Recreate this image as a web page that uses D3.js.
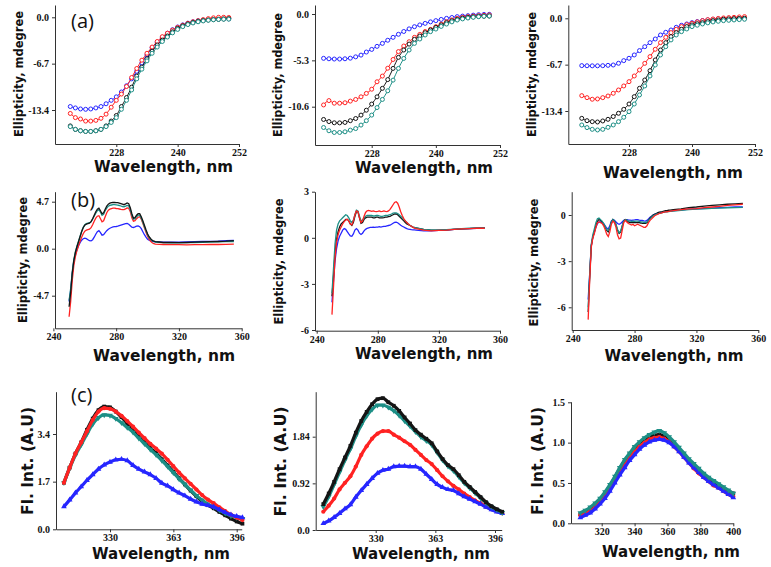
<!DOCTYPE html>
<html><head><meta charset="utf-8">
<script src="https://cdn.jsdelivr.net/npm/d3@7"></script>
<style>
html,body{margin:0;padding:0;background:#fff;}
svg{display:block;}
.tick text{font-family:"Liberation Serif","Times New Roman",serif;font-weight:bold;font-size:10px;fill:#111;}
</style></head><body>
<svg id="chart" width="771" height="567"></svg>
<script>
// ---------- DATA ----------
// Row (a): far-UV CD, 219..250 nm every 1 nm
const A_WL = d3.range(219, 251);
const A1_BLUE  = [-12.9,-13.1,-13.25,-13.3,-13.25,-13.1,-12.9,-12.5,-12.0,-11.5,-10.8,-9.9,-8.9,-7.8,-6.6,-5.4,-4.4,-3.6,-2.9,-2.3,-1.8,-1.4,-1.1,-0.85,-0.65,-0.5,-0.4,-0.3,-0.25,-0.2,-0.2,-0.22];
const A1_RED   = [-13.9,-14.5,-14.7,-15.0,-15.0,-14.9,-14.6,-14.0,-13.0,-12.0,-11.1,-10.0,-8.7,-7.4,-6.2,-5.2,-4.3,-3.5,-2.8,-2.3,-1.85,-1.45,-1.15,-0.87,-0.65,-0.49,-0.33,-0.19,-0.08,0.0,0.0,-0.02];
const A1_BLACK = [-15.7,-16.2,-16.4,-16.5,-16.5,-16.4,-16.2,-15.7,-15.0,-14.2,-12.9,-11.6,-10.1,-8.5,-7.2,-6.0,-4.9,-4.0,-3.3,-2.7,-2.1,-1.6,-1.25,-0.97,-0.75,-0.58,-0.47,-0.39,-0.33,-0.29,-0.24,-0.2];
const A1_TEAL  = [-15.8,-16.2,-16.4,-16.5,-16.5,-16.4,-16.2,-15.8,-15.2,-14.5,-13.3,-12.0,-10.5,-8.9,-7.5,-6.3,-5.2,-4.3,-3.5,-2.85,-2.25,-1.75,-1.35,-1.05,-0.82,-0.65,-0.52,-0.43,-0.36,-0.31,-0.28,-0.27];

const A2_BLUE  = [-5.07,-5.12,-5.15,-5.15,-5.12,-5.05,-4.9,-4.7,-4.35,-4.05,-3.7,-3.36,-3.0,-2.67,-2.32,-2.0,-1.7,-1.45,-1.25,-1.07,-0.9,-0.76,-0.62,-0.5,-0.4,-0.3,-0.24,-0.19,-0.13,-0.08,-0.05,-0.04];
const A2_RED   = [-10.4,-9.9,-10.2,-10.2,-10.15,-9.96,-9.77,-9.47,-9.08,-8.6,-7.75,-7.1,-6.2,-5.2,-4.3,-3.66,-3.17,-2.67,-2.33,-2.0,-1.76,-1.45,-1.15,-0.88,-0.68,-0.5,-0.38,-0.3,-0.24,-0.19,-0.15,-0.11];
const A2_BLACK = [-12.06,-12.3,-12.44,-12.45,-12.4,-12.2,-11.95,-11.56,-11.0,-10.3,-9.47,-8.5,-7.5,-6.22,-4.96,-4.12,-3.44,-2.9,-2.52,-2.14,-1.83,-1.53,-1.25,-0.99,-0.78,-0.61,-0.48,-0.38,-0.32,-0.27,-0.25,-0.23];
const A2_TEAL  = [-12.98,-13.35,-13.55,-13.55,-13.47,-13.28,-13.1,-12.7,-12.2,-11.56,-10.7,-9.77,-8.78,-7.56,-6.22,-5.08,-4.12,-3.36,-2.86,-2.4,-2.02,-1.72,-1.42,-1.15,-0.9,-0.69,-0.56,-0.46,-0.38,-0.31,-0.26,-0.23];

const A3_BLUE  = [-6.84,-6.86,-6.87,-6.87,-6.85,-6.8,-6.75,-6.5,-6.12,-5.78,-5.3,-4.67,-4.1,-3.52,-2.99,-2.41,-2.02,-1.69,-1.3,-1.01,-0.82,-0.63,-0.48,-0.34,-0.23,-0.14,-0.08,-0.03,0.0,0.0,0.0,0.02];
const A3_RED   = [-11.18,-11.47,-11.7,-11.66,-11.47,-11.23,-10.84,-10.36,-9.78,-9.16,-8.34,-7.47,-6.51,-5.54,-4.48,-3.52,-2.75,-2.07,-1.59,-1.2,-0.92,-0.72,-0.52,-0.34,-0.2,-0.1,-0.02,0.05,0.1,0.14,0.2,0.24];
const A3_BLACK = [-14.46,-14.8,-14.94,-14.99,-14.84,-14.6,-14.2,-13.73,-13.16,-12.39,-11.33,-10.12,-8.92,-7.57,-6.02,-4.58,-3.52,-2.65,-2.07,-1.59,-1.2,-0.96,-0.78,-0.63,-0.47,-0.34,-0.24,-0.14,-0.09,-0.05,-0.02,0.0];
const A3_TEAL  = [-15.42,-15.8,-16.05,-16.14,-16.05,-15.76,-15.42,-14.94,-14.31,-13.49,-12.39,-11.08,-9.78,-8.34,-6.75,-5.3,-4.1,-3.13,-2.41,-1.93,-1.54,-1.2,-1.0,-0.82,-0.66,-0.53,-0.43,-0.34,-0.29,-0.24,-0.19,-0.14];

// Row (b): near-UV CD, 250..305 every 1 nm, then every 5 nm
const B1_WL = [...d3.range(250, 306), ...d3.range(310, 356, 5)];
const B_WL  = [...d3.range(250, 306), ...d3.range(310, 351, 5)];
const B1_BLACK = [-5.8,-4.4,-2.5,-1.2,-0.4,0.2,0.7,1.2,1.7,2.1,
  2.35,2.45,2.5,2.55,2.7,3.0,3.35,3.7,3.95,4.05,
  3.8,3.5,3.6,3.95,4.25,4.45,4.55,4.6,4.62,4.62,
  4.6,4.6,4.55,4.5,4.45,4.4,4.48,4.57,4.5,4.1,
  3.5,3.05,3.1,3.35,3.5,3.5,3.2,2.8,2.35,1.9,
  1.5,1.2,1.0,0.85,0.75,0.7,
  0.62,0.62,0.6,0.62,0.65,0.68,0.7,0.72,0.75,0.8];
const B1_TEAL = [-5.2,-4.0,-2.3,-1.1,-0.3,0.25,0.75,1.25,1.75,2.15,
  2.4,2.5,2.55,2.6,2.7,2.95,3.25,3.55,3.8,3.9,
  3.65,3.35,3.45,3.8,4.05,4.25,4.33,4.37,4.4,4.4,
  4.38,4.36,4.32,4.27,4.22,4.18,4.25,4.33,4.28,3.9,
  3.35,2.95,3.0,3.2,3.35,3.35,3.05,2.65,2.2,1.8,
  1.4,1.12,0.95,0.8,0.72,0.67,
  0.6,0.58,0.58,0.6,0.62,0.64,0.66,0.68,0.7,0.72];
const B1_RED = [-6.8,-5.3,-3.2,-1.7,-0.8,-0.2,0.3,0.75,1.15,1.5,
  1.75,1.85,1.9,1.95,2.1,2.4,2.75,3.05,3.25,3.3,
  3.0,2.7,2.8,3.2,3.6,3.85,3.95,4.0,4.05,4.05,
  4.02,4.0,3.97,3.93,3.9,3.9,3.98,4.08,4.05,3.7,
  3.1,2.75,2.8,3.0,3.15,3.2,2.95,2.55,2.1,1.65,
  1.25,0.95,0.75,0.6,0.5,0.45,
  0.42,0.4,0.4,0.38,0.4,0.4,0.42,0.42,0.44,0.45];
const B1_BLUE = [-5.3,-4.2,-2.5,-1.3,-0.6,-0.1,0.3,0.6,0.85,1.0,
  1.05,1.0,0.9,0.8,0.78,0.9,1.15,1.45,1.7,1.8,
  1.6,1.35,1.4,1.6,1.8,1.95,2.05,2.12,2.18,2.2,
  2.22,2.25,2.3,2.35,2.4,2.45,2.5,2.52,2.45,2.3,
  2.15,2.12,2.18,2.25,2.28,2.2,2.0,1.7,1.4,1.15,
  0.95,0.85,0.78,0.74,0.72,0.7,
  0.66,0.65,0.66,0.68,0.7,0.72,0.74,0.76,0.8,0.82];

const B2_BLACK = [-3.8,-2.5,-1.0,-0.1,0.4,0.7,0.9,1.0,1.1,1.2,
  1.2,1.1,0.9,0.8,1.0,1.4,1.7,1.7,1.3,0.95,
  1.0,1.2,1.3,1.35,1.35,1.35,1.35,1.3,1.3,1.35,
  1.35,1.3,1.3,1.3,1.32,1.35,1.35,1.38,1.4,1.45,
  1.5,1.55,1.55,1.5,1.4,1.3,1.2,1.1,1.0,0.9,
  0.85,0.8,0.75,0.7,0.67,0.65,
  0.55,0.5,0.5,0.52,0.55,0.58,0.6,0.63,0.65];
const B2_TEAL = [-3.6,-2.0,-0.4,0.5,0.9,1.1,1.2,1.3,1.4,1.5,
  1.45,1.3,1.1,1.0,1.15,1.5,1.8,1.75,1.4,1.1,
  1.15,1.3,1.4,1.45,1.45,1.45,1.45,1.42,1.42,1.45,
  1.45,1.42,1.4,1.4,1.42,1.45,1.45,1.48,1.5,1.55,
  1.6,1.62,1.62,1.58,1.5,1.4,1.3,1.2,1.1,1.0,
  0.9,0.82,0.76,0.7,0.67,0.65,
  0.55,0.5,0.5,0.53,0.56,0.6,0.62,0.65,0.65];
const B2_RED = [-5.0,-3.2,-1.3,-0.3,0.2,0.5,0.7,0.9,1.05,1.15,
  1.2,1.1,0.9,0.85,1.1,1.5,1.75,1.7,1.3,1.0,
  1.1,1.4,1.65,1.75,1.78,1.75,1.72,1.75,1.72,1.7,
  1.72,1.75,1.7,1.72,1.75,1.72,1.7,1.75,1.85,2.0,
  2.15,2.3,2.35,2.25,2.0,1.7,1.45,1.25,1.1,1.0,
  0.9,0.82,0.75,0.68,0.63,0.6,
  0.5,0.45,0.48,0.5,0.55,0.58,0.6,0.62,0.62];
const B2_BLUE = [-4.2,-2.8,-1.5,-0.7,-0.2,0.1,0.3,0.5,0.6,0.55,
  0.4,0.25,0.12,0.1,0.25,0.5,0.6,0.5,0.3,0.22,
  0.3,0.45,0.55,0.62,0.65,0.68,0.68,0.7,0.68,0.7,
  0.7,0.72,0.7,0.72,0.75,0.75,0.78,0.8,0.82,0.88,
  0.95,1.0,1.02,0.98,0.9,0.82,0.75,0.7,0.65,0.6,
  0.57,0.55,0.53,0.52,0.51,0.5,
  0.45,0.45,0.48,0.5,0.55,0.58,0.6,0.62,0.65];

const B3_RED = [-6.8,-4.2,-2.1,-1.5,-1.2,-0.8,-0.5,-0.45,-0.5,-0.55,
  -0.7,-0.95,-1.25,-1.4,-1.1,-0.6,-0.4,-0.5,-0.8,-1.3,
  -1.55,-1.5,-1.0,-0.5,-0.35,-0.45,-0.55,-0.6,-0.65,-0.6,
  -0.7,-0.65,-0.6,-0.65,-0.7,-0.75,-0.8,-0.8,-0.7,-0.5,
  -0.35,-0.25,-0.15,-0.05,0.0,0.05,0.1,0.12,0.15,0.18,
  0.2,0.21,0.23,0.25,0.27,0.28,
  0.35,0.4,0.42,0.48,0.52,0.56,0.62,0.66,0.7];
const B3_BLACK = [-6.3,-4.0,-2.0,-1.45,-1.1,-0.7,-0.4,-0.3,-0.35,-0.45,
  -0.6,-0.8,-1.0,-1.1,-0.85,-0.45,-0.3,-0.4,-0.65,-1.0,
  -1.2,-1.1,-0.75,-0.4,-0.3,-0.35,-0.45,-0.5,-0.5,-0.5,
  -0.5,-0.5,-0.48,-0.5,-0.52,-0.55,-0.55,-0.55,-0.5,-0.35,
  -0.2,-0.1,0.0,0.05,0.1,0.15,0.18,0.2,0.22,0.25,
  0.28,0.29,0.31,0.32,0.34,0.35,
  0.4,0.48,0.52,0.58,0.62,0.66,0.7,0.72,0.75];
const B3_TEAL = [-6.0,-3.8,-1.9,-1.3,-0.9,-0.5,-0.25,-0.2,-0.3,-0.4,
  -0.55,-0.75,-0.95,-1.0,-0.8,-0.45,-0.3,-0.4,-0.6,-0.95,
  -1.15,-1.05,-0.7,-0.4,-0.3,-0.33,-0.38,-0.4,-0.42,-0.4,
  -0.42,-0.4,-0.4,-0.42,-0.45,-0.45,-0.48,-0.48,-0.45,-0.35,
  -0.25,-0.15,-0.05,0.0,0.05,0.08,0.1,0.12,0.15,0.18,
  0.2,0.21,0.22,0.23,0.24,0.25,
  0.3,0.35,0.38,0.4,0.43,0.45,0.47,0.48,0.5];
const B3_BLUE = [-5.5,-3.8,-2.0,-1.4,-1.1,-0.8,-0.55,-0.45,-0.45,-0.5,
  -0.55,-0.7,-0.85,-0.9,-0.7,-0.4,-0.3,-0.35,-0.45,-0.55,
  -0.6,-0.55,-0.45,-0.35,-0.3,-0.3,-0.32,-0.33,-0.35,-0.33,
  -0.32,-0.3,-0.3,-0.33,-0.35,-0.35,-0.38,-0.4,-0.35,-0.25,
  -0.15,-0.08,0.0,0.05,0.08,0.1,0.12,0.15,0.18,0.2,
  0.22,0.23,0.24,0.25,0.27,0.28,
  0.32,0.38,0.4,0.43,0.45,0.48,0.5,0.52,0.52];

// Row (c): intrinsic fluorescence, every 3 nm
const C1_WL = d3.range(306, 400, 3);
const C1_BLACK = [1.66,2.2,2.7,3.1,3.55,3.95,4.25,4.38,4.35,4.2,4.0,3.78,3.54,3.3,3.1,2.9,2.72,2.5,2.28,2.05,1.82,1.6,1.38,1.18,1.0,0.86,0.75,0.62,0.5,0.38,0.28,0.2];
const C1_RED   = [1.66,2.2,2.7,3.1,3.5,3.9,4.2,4.32,4.3,4.2,4.05,3.86,3.66,3.45,3.25,3.05,2.88,2.7,2.48,2.25,2.02,1.82,1.62,1.42,1.22,1.06,0.93,0.78,0.65,0.52,0.42,0.33];
const C1_TEAL  = [1.66,2.18,2.65,3.02,3.4,3.75,3.98,4.08,4.06,3.95,3.8,3.63,3.46,3.25,3.05,2.85,2.66,2.46,2.24,2.02,1.8,1.6,1.4,1.2,1.04,0.9,0.8,0.68,0.57,0.48,0.42,0.38];
const C1_BLUE  = [0.81,1.05,1.3,1.52,1.75,1.95,2.15,2.3,2.4,2.48,2.5,2.45,2.28,2.15,2.05,1.95,1.82,1.65,1.55,1.42,1.3,1.2,1.08,0.98,0.9,0.85,0.8,0.7,0.6,0.52,0.46,0.42];

const C2_WL = d3.range(301, 401, 3);
const C2_BLACK = [0.51,0.72,0.95,1.2,1.43,1.66,1.92,2.15,2.33,2.48,2.58,2.6,2.52,2.45,2.35,2.22,2.1,1.97,1.88,1.8,1.71,1.55,1.4,1.28,1.2,1.08,0.95,0.85,0.75,0.65,0.55,0.47,0.41,0.36];
const C2_TEAL  = [0.46,0.66,0.9,1.14,1.38,1.6,1.85,2.07,2.25,2.38,2.46,2.46,2.42,2.35,2.26,2.15,2.05,1.94,1.84,1.76,1.68,1.53,1.38,1.26,1.17,1.05,0.93,0.83,0.73,0.63,0.54,0.46,0.4,0.34];
const C2_RED   = [0.36,0.48,0.62,0.8,0.93,1.06,1.25,1.48,1.65,1.8,1.9,1.95,1.95,1.88,1.82,1.75,1.68,1.58,1.48,1.38,1.3,1.18,1.06,0.96,0.87,0.8,0.72,0.65,0.58,0.53,0.46,0.41,0.37,0.33];
const C2_BLUE  = [0.13,0.18,0.25,0.33,0.42,0.5,0.65,0.78,0.9,1.02,1.12,1.18,1.2,1.25,1.26,1.26,1.25,1.25,1.2,1.1,1.0,0.9,0.84,0.8,0.78,0.72,0.66,0.61,0.56,0.51,0.45,0.4,0.36,0.33];

const C3_WL = d3.range(307, 401, 3);
const C3_TEAL  = [0.13,0.16,0.2,0.25,0.31,0.39,0.48,0.58,0.69,0.79,0.87,0.95,1.01,1.06,1.1,1.13,1.15,1.12,1.07,1.01,0.94,0.87,0.8,0.74,0.68,0.62,0.57,0.53,0.49,0.45,0.41,0.37];
const C3_BLACK = [0.11,0.14,0.18,0.23,0.29,0.37,0.47,0.57,0.68,0.78,0.86,0.93,0.98,1.03,1.07,1.09,1.1,1.08,1.03,0.97,0.91,0.84,0.77,0.7,0.64,0.59,0.55,0.5,0.47,0.43,0.4,0.37];
const C3_RED   = [0.1,0.12,0.15,0.2,0.26,0.33,0.42,0.52,0.62,0.72,0.81,0.89,0.95,1.0,1.04,1.06,1.07,1.05,1.01,0.95,0.89,0.82,0.75,0.68,0.62,0.57,0.52,0.47,0.44,0.4,0.36,0.33];
const C3_BLUE  = [0.07,0.1,0.13,0.18,0.24,0.31,0.4,0.5,0.6,0.69,0.78,0.85,0.92,0.97,1.01,1.03,1.04,1.03,1.0,0.95,0.89,0.82,0.75,0.69,0.63,0.57,0.52,0.48,0.44,0.4,0.36,0.32];

// Tick values and labels
const A_XTICKS = [228, 240, 252];
const A_XLABELS = ["228", "240", "252"];
const A13_YTICKS = [0, -6.7, -13.4];
const A13_YLABELS = ["0.0", "-6.7", "-13.4"];
const A2_YTICKS = [0, -5.3, -10.6];
const A2_YLABELS = ["0.0", "-5.3", "-10.6"];
const B_XTICKS = [240, 280, 320, 360];
const B_XLABELS = ["240", "280", "320", "360"];
const B1_YTICKS = [4.7, 0, -4.7];
const B1_YLABELS = ["4.7", "0.0", "-4.7"];
const B2_YTICKS = [3, 0, -3, -6];
const B2_YLABELS = ["3", "0", "-3", "-6"];
const B3_YTICKS = [0, -3, -6];
const B3_YLABELS = ["0", "-3", "-6"];
const C12_XTICKS = [330, 363, 396];
const C12_XLABELS = ["330", "363", "396"];
const C1_YTICKS = [0, 1.7, 3.4];
const C1_YLABELS = ["0.0", "1.7", "3.4"];
const C2_YTICKS = [0, 0.92, 1.84];
const C2_YLABELS = ["0.0", "0.92", "1.84"];
const C3_XTICKS = [320, 340, 360, 380, 400];
const C3_XLABELS = ["320", "340", "360", "380", "400"];
const C3_YTICKS = [0, 0.5, 1.0, 1.5];
const C3_YLABELS = ["0.0", "0.5", "1.0", "1.5"];

const X_TITLE = "Wavelength, nm";
const Y_TITLE_CD = "Ellipticity, mdegree";
const Y_TITLE_FL = "Fl. Int. (A.U)";

// ---------- STYLE ----------
const COLORS = {black: "#151515", red: "#ff2222", teal: "#1d8f86", blue: "#2626ff"};

// ---------- LAYOUT (pixel positions) ----------
const panels = [
  {kind:"a", wl:A_WL, s:{blue:A1_BLUE, red:A1_RED, black:A1_BLACK, teal:A1_TEAL},
   xRef:[228,116.3,252,239], xAxis:[55,239], yRef:[0,17.3,-13.4,110], yAxis:[144,5],
   xt:A_XTICKS, xl:A_XLABELS, yt:A13_YTICKS, yl:A13_YLABELS,
   yTitle:{x:22.5,y:74,len:126,size:12,text:Y_TITLE_CD}, xTitle:{x:163.5,y:172,len:139}, letter:{t:"(a)",x:71,y:28}},
  {kind:"a", wl:A_WL, s:{blue:A2_BLUE, red:A2_RED, black:A2_BLACK, teal:A2_TEAL},
   xRef:[228,371.7,252,500], xAxis:[315,500], yRef:[0,14,-10.6,106.7], yAxis:[145,5],
   xt:A_XTICKS, xl:A_XLABELS, yt:A2_YTICKS, yl:A2_YLABELS,
   yTitle:{x:282,y:75,len:124,size:12,text:Y_TITLE_CD}, xTitle:{x:424,y:173,len:138}},
  {kind:"a", wl:A_WL, s:{blue:A3_BLUE, red:A3_RED, black:A3_BLACK, teal:A3_TEAL},
   xRef:[228,629,252,755], xAxis:[568.3,755], yRef:[0,18.3,-13.4,111], yAxis:[144,5],
   xt:A_XTICKS, xl:A_XLABELS, yt:A13_YTICKS, yl:A13_YLABELS,
   yTitle:{x:536,y:74.5,len:125,size:12,text:Y_TITLE_CD}, xTitle:{x:673,y:178,len:140}},

  {kind:"b", wl:B1_WL, s:{blue:B1_BLUE, red:B1_RED, teal:B1_TEAL, black:B1_BLACK},
   xRef:[240,53.4,360,241.7], xAxis:[55,241.7], yRef:[4.7,201.7,-4.7,295.7], yAxis:[328.3,191.7],
   xt:B_XTICKS, xl:B_XLABELS, yt:B1_YTICKS, yl:B1_YLABELS,
   yTitle:{x:26.5,y:260,len:126,size:12,text:Y_TITLE_CD}, xTitle:{x:164,y:360.5,len:142}, letter:{t:"(b)",x:71,y:207}},
  {kind:"b", wl:B_WL, s:{blue:B2_BLUE, black:B2_BLACK, teal:B2_TEAL, red:B2_RED},
   xRef:[240,316.7,360,500], xAxis:[315,500], yRef:[3,191.7,-6,330], yAxis:[330.7,191.7],
   xt:B_XTICKS, xl:B_XLABELS, yt:B2_YTICKS, yl:B2_YLABELS,
   yTitle:{x:283,y:261.5,len:126,size:12,text:Y_TITLE_CD}, xTitle:{x:424,y:358.5,len:138}},
  {kind:"b", wl:B_WL, s:{blue:B3_BLUE, black:B3_BLACK, teal:B3_TEAL, red:B3_RED},
   xRef:[240,572.7,360,758.3], xAxis:[571.7,758.3], yRef:[0,215,-6,307.3], yAxis:[330,191.7],
   xt:B_XTICKS, xl:B_XLABELS, yt:B3_YTICKS, yl:B3_YLABELS,
   yTitle:{x:538,y:262.5,len:128,size:12,text:Y_TITLE_CD}, xTitle:{x:674,y:361,len:139}},

  {kind:"c", wl:C1_WL, s:{black:C1_BLACK, teal:C1_TEAL, red:C1_RED, blue:C1_BLUE},
   xRef:[330,110,396,236.7], xAxis:[56,241.7], yRef:[0,529.3,3.4,434], yAxis:[529.3,391.7],
   xt:C12_XTICKS, xl:C12_XLABELS, yt:C1_YTICKS, yl:C1_YLABELS,
   yTitle:{x:33,y:461,len:108,size:16,text:Y_TITLE_FL}, xTitle:{x:161,y:559,len:138}, letter:{t:"(c)",x:71,y:402}},
  {kind:"c", wl:C2_WL, s:{red:C2_RED, blue:C2_BLUE, teal:C2_TEAL, black:C2_BLACK},
   xRef:[330,375.7,396,495], xAxis:[315.7,501.7], yRef:[0,530,1.84,436.7], yAxis:[530,391.7],
   xt:C12_XTICKS, xl:C12_XLABELS, yt:C2_YTICKS, yl:C2_YLABELS,
   yTitle:{x:286,y:461.5,len:110,size:16,text:Y_TITLE_FL}, xTitle:{x:421,y:559,len:138}},
  {kind:"c", wl:C3_WL, s:{black:C3_BLACK, red:C3_RED, blue:C3_BLUE, teal:C3_TEAL},
   xRef:[320,601.7,400,733.3], xAxis:[571,733.3], yRef:[0,523.3,1.5,402.3], yAxis:[523.3,401.7],
   xt:C3_XTICKS, xl:C3_XLABELS, yt:C3_YTICKS, yl:C3_YLABELS,
   yTitle:{x:543,y:461,len:108,size:16,text:Y_TITLE_FL}, xTitle:{x:671,y:557,len:138}}
];

// ---------- DRAW ----------
const svg = d3.select("#chart");
svg.append("rect").attr("width", 771).attr("height", 567).attr("fill", "#fff");

function makeScale(ref, ext) {
  const base = d3.scaleLinear().domain([ref[0], ref[2]]).range([ref[1], ref[3]]);
  return d3.scaleLinear().domain(ext.map(p => base.invert(p))).range(ext);
}

panels.forEach(p => {
  const x = makeScale(p.xRef, p.xAxis);
  const y = makeScale(p.yRef, p.yAxis);
  const g = svg.append("g");

  const gx = g.append("g").attr("transform", `translate(0,${p.yAxis[0]})`)
    .call(d3.axisBottom(x).tickValues(p.xt).tickFormat((d, i) => p.xl[i]).tickSizeInner(3).tickSizeOuter(0).tickPadding(2));
  const gy = g.append("g").attr("transform", `translate(${p.xAxis[0]},0)`)
    .call(d3.axisLeft(y).tickValues(p.yt).tickFormat((d, i) => p.yl[i]).tickSizeInner(3).tickSizeOuter(0).tickPadding(3));
  [gx, gy].forEach(a => {
    a.select(".domain").attr("stroke", "#333").attr("stroke-width", 1);
    a.selectAll(".tick line").attr("stroke", "#333");
    a.attr("font-family", null).attr("font-size", null);
  });

  Object.keys(p.s).forEach(key => {
    const vals = p.s[key];
    const pts = vals.map((v, i) => [p.wl[i], v]).filter(d => d[0] !== undefined);
    const col = COLORS[key];
    if (p.kind === "a") {
      const line = d3.line().curve(d3.curveMonotoneX).x(d => x(d[0])).y(d => y(d[1]));
      g.append("path").attr("d", line(pts)).attr("fill", "none").attr("stroke", col).attr("stroke-width", 1);
      g.append("g").selectAll("circle").data(pts).join("circle")
        .attr("cx", d => x(d[0])).attr("cy", d => y(d[1])).attr("r", 2)
        .attr("fill", "#fff").attr("stroke", col).attr("stroke-width", 1);
    } else if (p.kind === "b") {
      const line = d3.line().x(d => x(d[0])).y(d => y(d[1]));
      g.append("path").attr("d", line(pts)).attr("fill", "none").attr("stroke", col).attr("stroke-width", 1.3);
    } else {
      const line = d3.line().curve(d3.curveMonotoneX).x(d => x(d[0])).y(d => y(d[1]));
      g.append("path").attr("d", line(pts)).attr("fill", "none").attr("stroke", col).attr("stroke-width", 3.2);
      const symType = key === "black" ? d3.symbolSquare : key === "red" ? d3.symbolCircle : d3.symbolTriangle;
      const sym = d3.symbol().type(symType).size(14);
      g.append("g").selectAll("path").data(pts).join("path")
        .attr("d", sym)
        .attr("transform", d => `translate(${x(d[0])},${y(d[1])})${key === "teal" ? " rotate(180)" : ""}`)
        .attr("fill", col);
    }
  });

  g.append("text").attr("x", p.xTitle.x).attr("y", p.xTitle.y)
    .attr("text-anchor", "middle").attr("font-family", "DejaVu Sans, Verdana, sans-serif")
    .attr("font-weight", "bold").attr("font-size", 15).attr("fill", "#111")
    .attr("textLength", p.xTitle.len).attr("lengthAdjust", "spacingAndGlyphs")
    .text(X_TITLE);
  g.append("text").attr("transform", `translate(${p.yTitle.x},${p.yTitle.y}) rotate(-90)`)
    .attr("text-anchor", "middle").attr("font-family", "DejaVu Sans, Verdana, sans-serif")
    .attr("font-weight", "bold").attr("font-size", p.yTitle.size).attr("fill", "#111")
    .attr("textLength", p.yTitle.len).attr("lengthAdjust", "spacingAndGlyphs")
    .text(p.yTitle.text);
  if (p.letter) {
    g.append("text").attr("x", p.letter.x).attr("y", p.letter.y)
      .attr("font-family", "Open Sans, sans-serif").attr("font-size", 20).attr("fill", "#111")
      .text(p.letter.t);
  }
});
</script>
</body></html>
